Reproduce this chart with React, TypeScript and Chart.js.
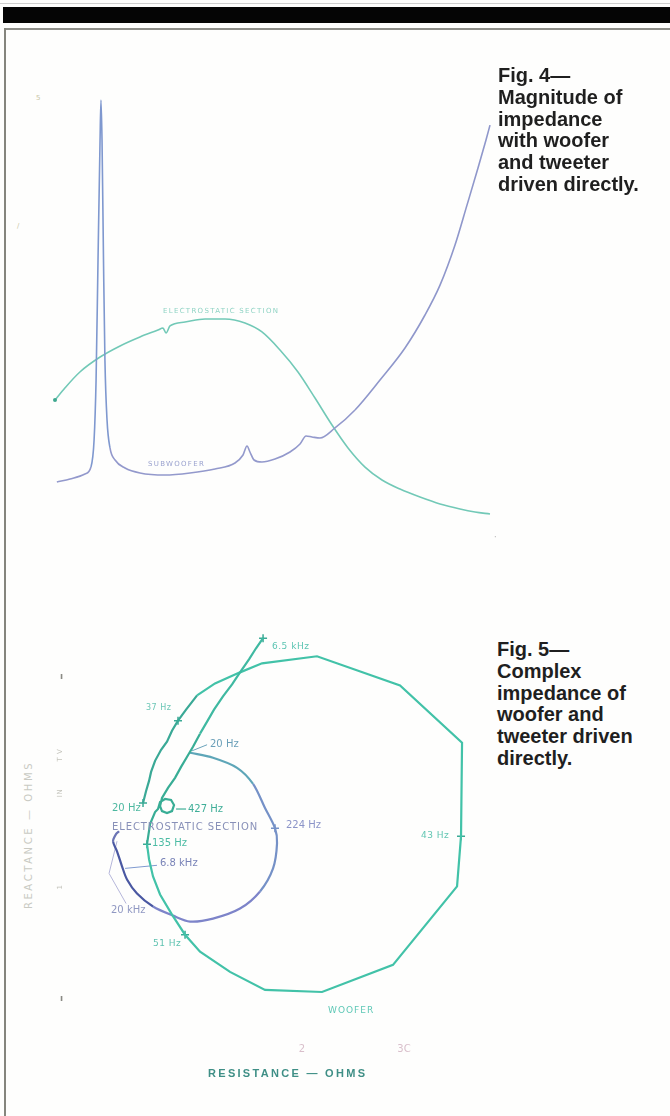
import React, { useEffect, useRef } from "react";
import { Chart, registerables } from "chart.js";

Chart.register(...registerables);

// ---------- Fig. 4: impedance magnitude vs frequency ----------
const subFreq = [20.6, 25.4, 32.2, 35.4, 37.2, 38.4, 39.6, 40.9, 41.5, 42.2, 43.2, 44.2, 45.7, 47.9, 51.9, 60.8, 77.1, 114.7, 170.6, 253.8, 348.6, 396, 422, 442, 472, 535, 658, 835, 979, 1077, 1184, 1345, 1706, 2344, 3487, 5186, 7124, 9042, 11474, 13878, 16528, 18770, 20000];
const subZ = [4.02, 4.27, 4.69, 5.27, 7.53, 12.56, 22.6, 32.65, 36.0, 32.65, 22.6, 14.2, 9.2, 6.87, 5.86, 5.19, 4.77, 4.6, 4.77, 5.11, 5.61, 6.28, 7.03, 6.53, 5.86, 5.69, 5.94, 6.53, 7.2, 7.87, 7.79, 7.7, 8.54, 10.05, 12.56, 15.24, 18.0, 20.5, 23.86, 27.2, 30.3, 32.65, 33.9];

const esFreq = [20, 23.4, 29.7, 40.9, 56.2, 77.1, 102.6, 111.1, 116.6, 124.2, 157.7, 216.6, 297.5, 408.6, 535, 712.4, 948, 1242, 1627, 2098, 2748, 3598, 4790, 6580, 9042, 12422, 15766, 20000];
const esZ = [10.88, 11.89, 13.23, 14.48, 15.41, 16.16, 16.74, 16.91, 16.49, 17.08, 17.41, 17.67, 17.67, 17.33, 16.58, 15.07, 13.23, 11.05, 8.79, 6.87, 5.27, 4.19, 3.43, 2.76, 2.18, 1.76, 1.51, 1.34];

// ---------- Fig. 5: complex impedance (resistance, reactance in ohms) ----------
const wooferR = [4.41, 4.71, 5.0, 5.2, 5.59, 6.18, 6.76, 7.25, 7.84, 8.63, 9.71, 11.47, 13.92, 16.08, 21.47, 29.61, 35.69, 35.59, 35.2, 28.92, 21.96, 16.37, 12.94, 10.0, 8.53, 7.25, 6.08, 5.39, 5.0, 4.8, 5.1, 5.59, 5.88, 6.08, 6.57, 7.16, 7.45, 7.25, 6.76, 6.27, 6.08, 6.27, 6.86, 7.55, 8.14, 8.73, 9.31, 10.0, 10.69, 11.37, 12.25, 13.14, 13.92, 14.8, 15.49, 16.18];
const wooferX = [3.24, 4.41, 5.39, 6.27, 7.35, 8.43, 9.22, 10.29, 11.27, 12.35, 13.73, 14.9, 15.98, 16.86, 17.55, 14.71, 9.12, 0, -4.9, -12.55, -15.2, -15.0, -13.24, -11.27, -9.61, -7.65, -5.69, -3.92, -2.25, -0.78, 1.18, 2.35, 2.65, 3.33, 3.63, 3.53, 3.04, 2.45, 2.25, 2.45, 2.94, 3.73, 4.71, 5.69, 6.76, 7.75, 8.73, 10.0, 11.18, 12.35, 13.63, 14.8, 15.98, 17.25, 18.33, 19.31];
// indices of marked frequencies on woofer curve: 20 Hz, 37 Hz, 43 Hz, 51 Hz, 135 Hz, 6.5 kHz
const wooferMarks = [0, 8, 17, 24, 29, 55];

const esR = [9.02, 11.27, 13.63, 15.2, 16.37, 17.35, 17.55, 17.16, 15.88, 13.92, 11.27, 9.02, 7.35, 5.39, 3.82, 2.84, 2.35, 1.86, 1.47, 1.76, 2.06];
const esX = [8.14, 7.65, 6.67, 5.1, 2.75, 0.78, -0.69, -3.14, -5.39, -7.06, -8.04, -8.33, -7.75, -6.86, -5.59, -4.22, -2.94, -1.47, -0.49, 0.2, 0.49];
const esMarks = [5];

// leader lines for labels
const lead20HzR = [10.69, 9.22];
const lead20HzX = [8.92, 8.33];
const lead68kR = [5.78, 2.65];
const lead68kX = [-2.84, -3.14];
const lead20kR = [1.86, 1.08, 2.75];
const lead20kX = [-0.49, -3.63, -6.57];
const lead427R = [7.65, 8.63];
const lead427X = [2.65, 2.65];

const resTicks = [20, 30];
const resTickLabels = ["2", "3C"];

const pts = (xs: number[], ys: number[]) => xs.map((x, i) => ({ x, y: ys[i] }));

function segColor(ranges: [number, string][]) {
  return (ctx: any) => {
    const i = ctx.p0DataIndex;
    let c = ranges[0][1];
    for (const [start, col] of ranges) if (i >= start) c = col;
    return c;
  };
}

function TopChart() {
  const ref = useRef<HTMLCanvasElement>(null);
  useEffect(() => {
    const chart = new Chart(ref.current!, {
      type: "line",
      data: {
        datasets: [
          {
            data: pts(subFreq, subZ),
            borderColor: "#9399cc",
            borderWidth: 1.6,
            pointRadius: 0,
            cubicInterpolationMode: "monotone",
            clip: false as any,
            segment: { borderColor: segColor([[0, "#9399cc"], [3, "#7f98cf"], [13, "#9399cc"], [33, "#8f97cb"]]) },
          },
          {
            data: pts(esFreq, esZ),
            borderColor: "#72c9b7",
            borderWidth: 1.6,
            pointRadius: (c: any) => (c.dataIndex === 0 ? 2 : 0),
            pointBackgroundColor: "#3fa88f",
            pointBorderWidth: 0,
            cubicInterpolationMode: "monotone",
            clip: false as any,
          },
        ],
      },
      options: {
        responsive: false,
        animation: false,
        layout: { padding: 10 },
        plugins: { legend: { display: false }, tooltip: { enabled: false } },
        scales: {
          x: { type: "logarithmic", min: 20, max: 20000, display: false },
          y: { type: "linear", min: 0, max: 36, display: false },
        },
      },
    });
    return () => chart.destroy();
  }, []);
  return <canvas ref={ref} width={455} height={450} style={{ position: "absolute", left: 45, top: 90 }} />;
}

function BottomChart() {
  const ref = useRef<HTMLCanvasElement>(null);
  useEffect(() => {
    const mk = (idx: number[], xs: number[], ys: number[]) => idx.map((i) => ({ x: xs[i], y: ys[i] }));
    const chart = new Chart(ref.current!, {
      type: "scatter",
      data: {
        datasets: [
          {
            data: pts(wooferR, wooferX),
            showLine: true,
            borderWidth: 2.2,
            borderColor: "#45c3aa",
            pointRadius: 0,
            tension: 0,
            segment: { borderColor: segColor([[0, "#3aa996"], [10, "#42c2a8"], [29, "#38ad95"], [47, "#3fb9a1"]]) },
          },
          {
            data: pts(esR, esX),
            showLine: true,
            borderWidth: 2.2,
            borderColor: "#7591c7",
            pointRadius: 0,
            tension: 0.3,
            segment: { borderColor: segColor([[0, "#5ea6b8"], [3, "#7591c7"], [8, "#7d84c9"], [13, "#4a58a2"], [18, "#6b74b4"]]) },
          },
          { data: pts(lead20HzR, lead20HzX), showLine: true, borderWidth: 1, borderColor: "#6aa3ba", pointRadius: 0 },
          { data: pts(lead68kR, lead68kX), showLine: true, borderWidth: 1, borderColor: "#7f9ad0", pointRadius: 0 },
          { data: pts(lead20kR, lead20kX), showLine: true, borderWidth: 1, borderColor: "#b5b6da", pointRadius: 0 },
          { data: pts(lead427R, lead427X), showLine: true, borderWidth: 1.2, borderColor: "#3fae98", pointRadius: 0 },
          {
            data: mk(wooferMarks, wooferR, wooferX),
            showLine: false,
            pointStyle: "cross",
            pointRadius: 4,
            borderWidth: 1.5,
            borderColor: "#3aaa95",
          },
          {
            data: mk(esMarks, esR, esX),
            showLine: false,
            pointStyle: "cross",
            pointRadius: 4,
            borderWidth: 1.5,
            borderColor: "#7591c7",
          },
        ],
      },
      options: {
        responsive: false,
        animation: false,
        layout: { padding: { left: 10, right: 10, top: 10, bottom: 2 } },
        plugins: { legend: { display: false }, tooltip: { enabled: false } },
        scales: {
          x: {
            type: "linear",
            min: -2.75,
            max: 36.47,
            grid: { display: false, drawTicks: false },
            border: { display: false },
            afterBuildTicks: (s: any) => {
              s.ticks = resTicks.map((v) => ({ value: v }));
            },
            ticks: {
              autoSkip: false,
              padding: 11,
              color: "#d9bfcb",
              font: { family: "DejaVu Sans", size: 10 },
              callback: (v: any) => {
                const i = resTicks.indexOf(Number(v));
                return i >= 0 ? resTickLabels[i] : "";
              },
            },
          },
          y: { type: "linear", min: -19.1, max: 20.6, display: false },
        },
      },
    });
    return () => chart.destroy();
  }, []);
  return <canvas ref={ref} width={420} height={453} style={{ position: "absolute", left: 60, top: 615 }} />;
}

function Lbl(p: { x: number; y: number; t: string; c: string; s: number; ls?: number; w?: any; f?: string; rot?: boolean }) {
  return (
    <span
      style={{
        position: "absolute",
        left: p.x,
        top: p.y,
        transform: p.rot ? "translate(-50%,-50%) rotate(-90deg)" : "translateY(-50%)",
        color: p.c,
        fontSize: p.s,
        lineHeight: "1",
        letterSpacing: (p.ls ?? 0.5) + "px",
        fontWeight: p.w ?? "normal",
        fontFamily: p.f ?? "'DejaVu Sans', sans-serif",
        whiteSpace: "nowrap",
      }}
    >
      {p.t}
    </span>
  );
}

const captionStyle: React.CSSProperties = {
  position: "absolute",
  fontFamily: "'Liberation Sans', Arial, sans-serif",
  fontWeight: "bold",
  fontSize: 20,
  lineHeight: "21.8px",
  color: "#1f1f1f",
  whiteSpace: "pre",
};

export default function App() {
  return (
    <div style={{ position: "fixed", left: 0, top: 0, width: 670, height: 1116, background: "#fefefd", overflow: "hidden" }}>
      <div style={{ position: "absolute", left: 0, top: 3, width: 670, height: 1, background: "#cfcfcf" }} />
      <div style={{ position: "absolute", left: 3, top: 7, width: 667, height: 16, background: "#050505" }} />
      <div style={{ position: "absolute", left: 5, top: 28, width: 665, height: 2, background: "#8e8e88" }} />
      <div style={{ position: "absolute", left: 4, top: 28, width: 2, height: 1088, background: "#85857d" }} />

      <TopChart />
      <BottomChart />

      <div style={{ ...captionStyle, left: 498, top: 65 }}>{"Fig. 4—\nMagnitude of\nimpedance\nwith woofer\nand tweeter\ndriven directly."}</div>
      <div style={{ ...captionStyle, left: 497, top: 639 }}>{"Fig. 5—\nComplex\nimpedance of\nwoofer and\ntweeter driven\ndirectly."}</div>

      {/* Fig. 4 labels */}
      <Lbl x={36} y={98} t="5" c="#c9c6a6" s={7} />
      <Lbl x={17} y={226} t="/" c="#c9c6a6" s={7} />
      <Lbl x={494} y={538} t="·" c="#b0b0b0" s={8} />
      <Lbl x={163} y={311} t="ELECTROSTATIC SECTION" c="#8fd3c4" s={7} ls={1.3} />
      <Lbl x={148} y={464} t="SUBWOOFER" c="#9aa2cf" s={7} ls={1.3} />

      {/* Fig. 5 labels */}
      <Lbl x={272} y={646} t="6.5 kHz" c="#5cc4b2" s={9} />
      <Lbl x={146} y={708} t="37 Hz" c="#6cc6b6" s={8} />
      <Lbl x={210} y={744} t="20 Hz" c="#6a9fb8" s={10} ls={0} />
      <Lbl x={112} y={808} t="20 Hz" c="#4db8a0" s={10} ls={0} />
      <Lbl x={188} y={809} t="427 Hz" c="#3fae98" s={10} ls={0} />
      <Lbl x={112} y={827} t="ELECTROSTATIC SECTION" c="#8890b8" s={10} ls={0.9} />
      <Lbl x={286} y={825} t="224 Hz" c="#8b94c8" s={10} ls={0} />
      <Lbl x={421} y={835} t="43 Hz" c="#63c6b3" s={9} />
      <Lbl x={152} y={843} t="135 Hz" c="#4cbca4" s={10} ls={0} />
      <Lbl x={160} y={863} t="6.8 kHz" c="#7a84b8" s={10} ls={0} />
      <Lbl x={111} y={910} t="20 kHz" c="#9098c2" s={10} ls={0} />
      <Lbl x={153} y={943} t="51 Hz" c="#5ec2b0" s={9} />
      <Lbl x={328} y={1010} t="WOOFER" c="#5ec8b6" s={9} ls={1} />

      {/* axis texts */}
      <Lbl x={29} y={835} t="REACTANCE — OHMS" c="#c9cac3" s={10} ls={2.6} rot />
      <Lbl x={60} y={755} t="T V" c="#c4c4bc" s={7} rot />
      <Lbl x={60} y={793} t="IN" c="#c4c4bc" s={7} rot />
      <Lbl x={60} y={887} t="1" c="#c4c4bc" s={7} rot />
      <Lbl x={60} y={676} t="ı" c="#8a8a84" s={9} w="bold" />
      <Lbl x={60} y={998} t="ı" c="#8a8a84" s={9} w="bold" />
      <Lbl x={208} y={1073} t="RESISTANCE — OHMS" c="#3f8f86" s={11} ls={2.3} w="bold" f="'Liberation Sans', Arial, sans-serif" />
    </div>
  );
}
